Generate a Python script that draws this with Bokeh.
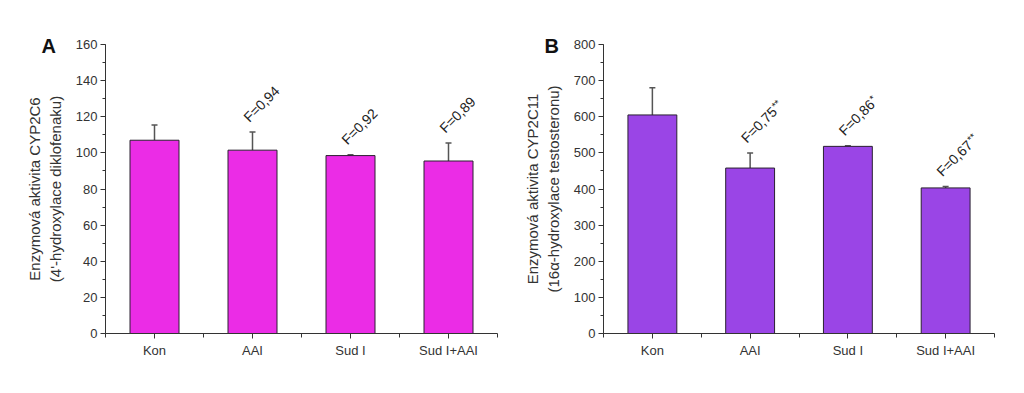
import numpy as np
from bokeh.plotting import figure
from bokeh.layouts import row
from bokeh.models import (ColumnDataSource, Range1d, SingleIntervalTicker, FixedTicker,
                          Whisker, TeeHead, Title)
from bokeh.core.properties import value
from bokeh.embed import file_html
from bokeh.resources import INLINE

categories = ["Kon", "AAI", "Sud I", "Sud I+AAI"]

a_values = [107.0, 101.5, 98.5, 95.5]
a_errors = [8.5, 10.0, 0.5, 10.0]
a_labels = ["", "F=0,94", "F=0,92", "F=0,89"]
a_sups = ["", "", "", ""]

b_values = [605.0, 458.0, 518.0, 403.0]
b_errors = [75.0, 42.0, 2.0, 4.0]
b_labels = ["", "F=0,75", "F=0,86", "F=0,67"]
b_sups = ["", "**", "*", "**"]

FONT = "Liberation Sans"
TXT = "#333333"


def make_panel(letter, vals, errs, labels, sups, ymax, yint, color, ylabel,
               width, height, bl, br, bt, bb, title_offset):
    x = np.arange(len(categories)) + 0.5
    src = ColumnDataSource(dict(
        x=x, val=vals, up=np.array(vals) + np.array(errs),
        lab=labels, sup=sups))
    p = figure(width=width, height=height, output_backend="svg", toolbar_location=None,
               x_range=Range1d(0, len(categories)), y_range=Range1d(0, ymax),
               min_border_left=bl, min_border_right=br, min_border_top=bt, min_border_bottom=bb)
    p.outline_line_color = None
    p.xgrid.visible = False
    p.ygrid.visible = False
    p.background_fill_color = "white"
    p.border_fill_color = "white"

    p.vbar(x="x", top="val", bottom=0, width=0.5, source=src,
           fill_color=color, line_color="#2a2030", line_width=1)
    w = Whisker(base="x", upper="up", lower="val", source=src,
                line_color="#555555", line_width=1.5,
                upper_head=TeeHead(size=6, line_color="#555555", line_width=1.5),
                lower_head=None)
    p.add_layout(w)

    p.text(x="x", y="up", text="lab", source=src, angle=np.pi / 4,
           text_font=value(FONT), text_font_size="14px", text_color="#222222",
           text_align="left", text_baseline="bottom", x_offset=-1, y_offset=-7)
    p.text(x="x", y="up", text="sup", source=src, angle=np.pi / 4,
           text_font=value(FONT), text_font_size="10px", text_color="#222222",
           text_align="left", text_baseline="bottom", x_offset=27, y_offset=-7 - 35)

    # y axis
    ya = p.yaxis[0]
    ya.ticker = SingleIntervalTicker(interval=yint, num_minor_ticks=2)
    ya.axis_label = ylabel
    ya.axis_label_text_font = FONT
    ya.axis_label_text_font_size = "15px"
    ya.axis_label_text_font_style = "normal"
    ya.axis_label_text_color = TXT
    ya.axis_label_standoff = 9
    ya.major_label_text_font = FONT
    ya.major_label_text_font_size = "13px"
    ya.major_label_text_color = TXT
    ya.major_label_standoff = 3
    ya.major_tick_in = 0
    ya.major_tick_out = 5
    ya.minor_tick_in = 0
    ya.minor_tick_out = 3
    ya.axis_line_color = "#333333"
    ya.major_tick_line_color = "#333333"
    ya.minor_tick_line_color = "#333333"

    # x axis
    xa = p.xaxis[0]
    xa.ticker = FixedTicker(ticks=list(x), minor_ticks=list(range(len(categories) + 1)))
    xa.major_label_overrides = {float(xx): c for xx, c in zip(x, categories)}
    xa.major_label_text_font = FONT
    xa.major_label_text_font_size = "13px"
    xa.major_label_text_color = TXT
    xa.major_label_standoff = 4
    xa.major_tick_in = 0
    xa.major_tick_out = 5
    xa.minor_tick_in = 0
    xa.minor_tick_out = 4
    xa.axis_line_color = "#333333"
    xa.major_tick_line_color = "#333333"
    xa.minor_tick_line_color = "#333333"

    t = Title(text=letter, align="left", offset=title_offset, standoff=-24,
              text_font=FONT, text_font_size="20px", text_font_style="bold",
              text_color="#111111")
    p.add_layout(t, "above")
    return p


pA = make_panel("A", a_values, a_errors, a_labels, a_sups, 160, 20, "#EB2CE6",
                "Enzymová aktivita CYP2C6\n(4'-hydroxylace diklofenaku)",
                508, 375, 105, 11, 43, 42, -64)
pB = make_panel("B", b_values, b_errors, b_labels, b_sups, 800, 100, "#9A45E6",
                "Enzymová aktivita CYP2C11\n(16α-hydroxylace testosteronu)",
                512, 375, 95, 26, 44, 38, -59)

layout = row(pA, pB)
open("out.html", "w").write(file_html(layout, INLINE))
